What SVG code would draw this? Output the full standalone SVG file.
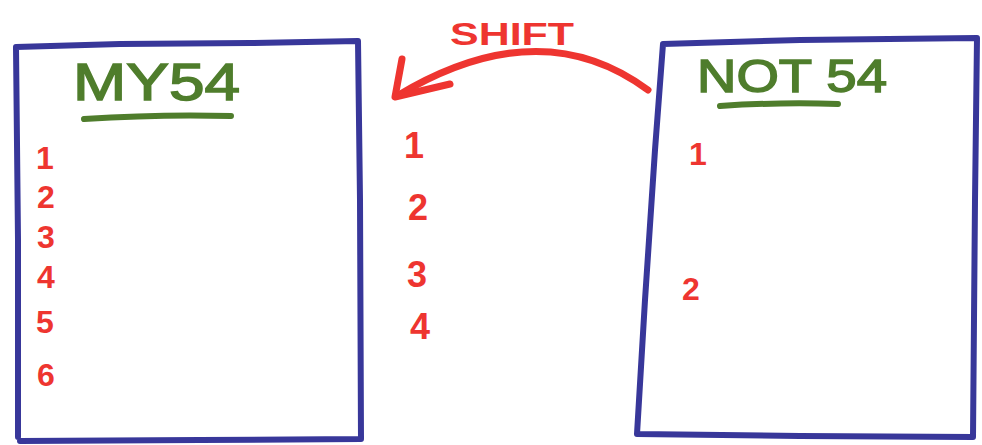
<svg xmlns="http://www.w3.org/2000/svg" width="982" height="445" viewBox="0 0 982 445">
<style>
.box{fill:none;stroke:#38379a;stroke-width:6;stroke-linejoin:round;stroke-linecap:round}
.title{fill:#4f7d2c;font-family:"Liberation Sans",Arial,sans-serif;font-weight:normal}
.ul{stroke:#4f7d2c;stroke-width:6;stroke-linecap:round;fill:none}
.num{fill:#ee3530;font-family:"Liberation Sans",Arial,sans-serif;font-weight:bold;font-size:32px;text-anchor:middle}
.mid{font-size:36px}
.red{stroke:#ee3530;stroke-width:7;fill:none;stroke-linecap:round;stroke-linejoin:round}
</style>
<rect width="982" height="445" fill="#ffffff"/>
<g id="box-my54">
<path class="box" d="M16 47 L120 44 L250 43 L358 41 L360 200 L361 439 M16 47 L18 240 L18 437 M20 441 L200 440 L361 439"/>
<text class="title" x="73" y="100" font-size="52" textLength="167" lengthAdjust="spacingAndGlyphs" stroke="#4f7d2c" stroke-width="1.5">MY54</text>
<path class="ul" d="M84 119 Q160 114 231 116"/>
<text class="num" x="45" y="169">1</text>
<text class="num" x="46" y="208">2</text>
<text class="num" x="46" y="248">3</text>
<text class="num" x="46" y="288">4</text>
<text class="num" x="45" y="333">5</text>
<text class="num" x="46" y="386">6</text>
</g>
<g id="middle-list">
<text class="num mid" x="414" y="158">1</text>
<text class="num mid" x="418" y="220">2</text>
<text class="num mid" x="417" y="287">3</text>
<text class="num mid" x="420" y="339">4</text>
</g>
<g id="box-not54">
<path class="box" d="M663 44 L800 40 L977 38 L975 200 L973 437 L800 436 L637 434 L645 300 L655 150 Z"/>
<text class="title" x="697" y="92" font-size="46" textLength="190" lengthAdjust="spacingAndGlyphs" stroke="#4f7d2c" stroke-width="1.5">NOT 54</text>
<path class="ul" d="M720 106 Q780 102 838 104"/>
<text class="num" x="698" y="165">1</text>
<text class="num" x="691" y="300">2</text>
</g>
<g id="connectors">
<path class="red" d="M648 90 Q540 10 397 96"/>
<path class="red" d="M402 59 L395 97 L450 84"/>
<text x="512" y="45" fill="#ee3530" font-family="Liberation Sans,Arial,sans-serif" font-weight="bold" font-size="32" text-anchor="middle" textLength="124" lengthAdjust="spacingAndGlyphs">SHIFT</text>
</g>
</svg>
